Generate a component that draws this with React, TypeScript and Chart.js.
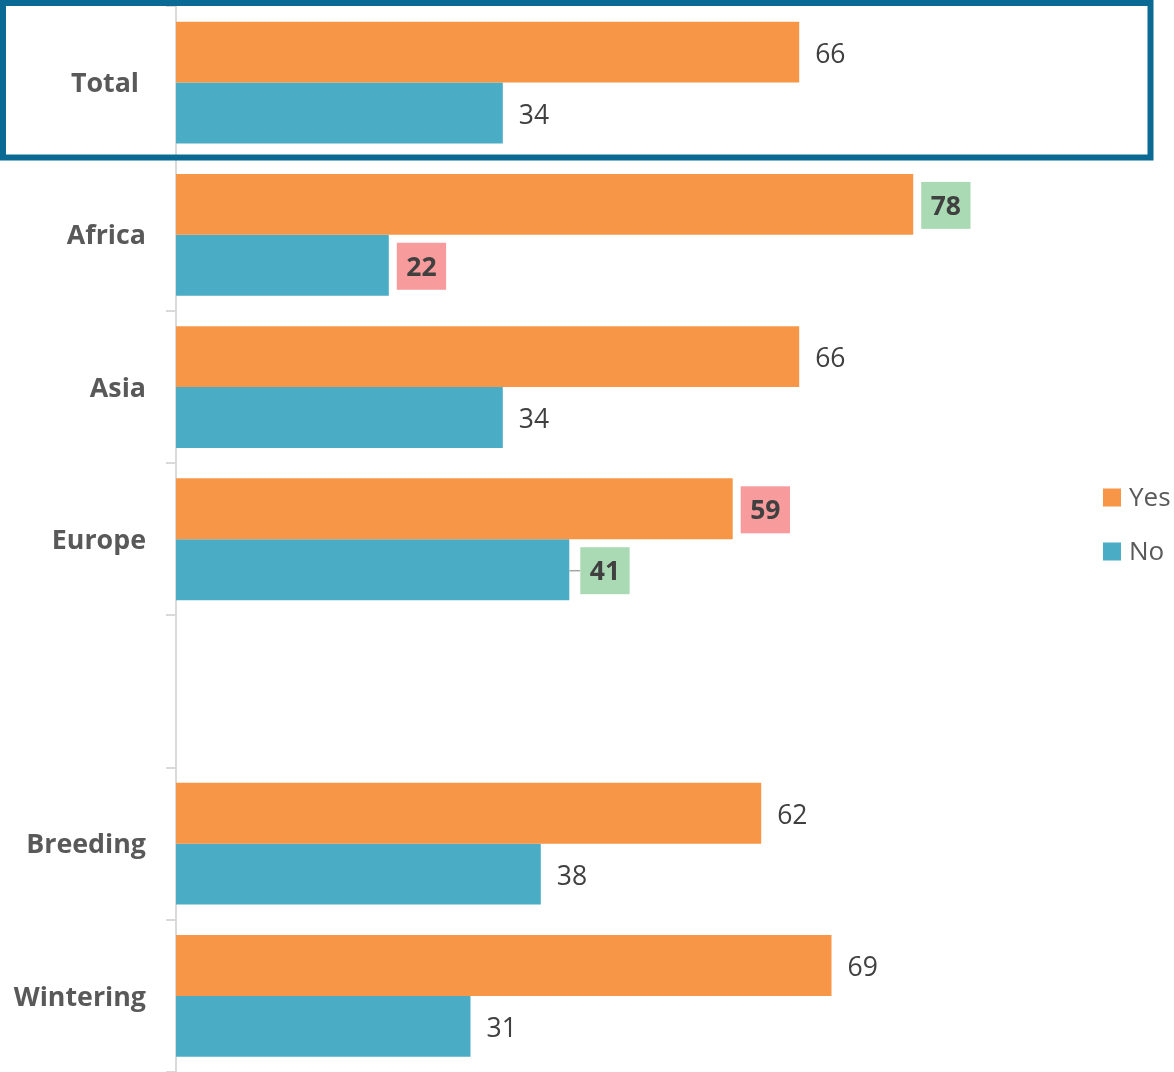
import React, { useEffect, useRef } from "react";
import { Chart, registerables } from "chart.js";

Chart.register(...registerables);

const categories = ["Total ", "Africa", "Asia", "Europe", "", "Breeding", "Wintering"];
const seriesNames = ["Yes", "No"];
const yesValues = [65.6, 77.6, 65.6, 58.6, null, 61.6, 69.0];
const noValues = [34.4, 22.4, 34.4, 41.4, null, 38.4, 31.0];
// highlight flags per label: "good" (green box), "bad" (red box), "" none
const yesHighlight = ["", "good", "", "bad", "", "", ""];
const noHighlight = ["", "bad", "", "good", "", "", ""];
const noLeader = [false, false, false, true, false, false, false];

const COLORS = { yes: "#F79646", no: "#4BACC6" };
const FONT = '"Open Sans", "Noto Sans", sans-serif';

const labelPlugin = {
  id: "valueLabels",
  afterDatasetsDraw(chart: any) {
    const ctx = chart.ctx;
    const highlights = [yesHighlight, noHighlight];
    chart.data.datasets.forEach((ds: any, i: number) => {
      const meta = chart.getDatasetMeta(i);
      meta.data.forEach((bar: any, j: number) => {
        const v = ds.data[j];
        if (v == null) return;
        const text = String(Math.round(v));
        const hl = highlights[i][j];
        ctx.save();
        ctx.textBaseline = "middle";
        if (hl) {
          ctx.font = `bold 26.5px ${FONT}`;
          const w = ctx.measureText(text).width;
          const bw = w + 19;
          const bh = 47;
          const leader = i === 1 && noLeader[j];
          const bx = bar.x + (leader ? 11 : 8);
          const by = bar.y - bh / 2 + 1;
          if (leader) {
            ctx.strokeStyle = "#A6A6A6";
            ctx.lineWidth = 1.5;
            ctx.beginPath();
            ctx.moveTo(bar.x, bar.y + 1);
            ctx.lineTo(bx, bar.y + 1);
            ctx.stroke();
          }
          ctx.fillStyle = hl === "good" ? "#A9DAB4" : "#F79B9C";
          ctx.fillRect(bx, by, bw, bh);
          ctx.fillStyle = "#404040";
          ctx.textAlign = "center";
          ctx.fillText(text, bx + bw / 2, bar.y + 3);
        } else {
          ctx.font = `26.5px ${FONT}`;
          ctx.fillStyle = "#404040";
          ctx.textAlign = "left";
          ctx.fillText(text, bar.x + 16, bar.y + 3);
        }
        ctx.restore();
      });
    });
  },
};

const decorPlugin = {
  id: "decor",
  afterDraw(chart: any) {
    const ctx = chart.ctx;
    const ys = chart.scales.y;
    const boundary = (ys.getPixelForValue(0) + ys.getPixelForValue(1)) / 2;
    // highlight box around "Total"
    ctx.save();
    ctx.strokeStyle = "#0B6A94";
    ctx.lineWidth = 6;
    ctx.strokeRect(3, ys.top - 3.5, chart.width - 26.5, boundary - ys.top + 2.3);
    ctx.restore();

    // legend
    ctx.save();
    const lx = chart.chartArea.right - 23;
    const ly0 = 497.5;
    chart.data.datasets.forEach((ds: any, i: number) => {
      const cy = ly0 + i * 54;
      ctx.fillStyle = ds.backgroundColor;
      ctx.fillRect(lx, cy - 9, 18, 18);
      ctx.fillStyle = "#595959";
      ctx.font = `26px ${FONT}`;
      ctx.textBaseline = "middle";
      ctx.textAlign = "left";
      ctx.fillText(ds.label, lx + 26, cy + 1);
    });
    ctx.restore();
  },
};

export default function App() {
  const ref = useRef<HTMLCanvasElement>(null);
  useEffect(() => {
    if (!ref.current) return;
    const chart = new Chart(ref.current, {
      type: "bar",
      data: {
        labels: categories,
        datasets: [
          { label: seriesNames[0], data: yesValues, backgroundColor: COLORS.yes, categoryPercentage: 0.8, barPercentage: 1 },
          { label: seriesNames[1], data: noValues, backgroundColor: COLORS.no, categoryPercentage: 0.8, barPercentage: 1 },
        ],
      },
      options: {
        indexAxis: "y",
        responsive: false,
        animation: false,
        devicePixelRatio: 1,
        layout: { padding: { top: 6.5, right: 48, bottom: 0, left: 0 } },
        plugins: { legend: { display: false }, tooltip: { enabled: false } },
        scales: {
          x: { display: false, min: 0, max: 100 },
          y: {
            afterFit: (scale: any) => {
              scale.width = 176;
              scale.paddingTop = 0;
              scale.paddingBottom = 0;
            },
            border: { display: true, color: "#D9D9D9", width: 2 },
            grid: {
              drawOnChartArea: false,
              drawTicks: true,
              tickLength: 10,
              color: "#D9D9D9",
              lineWidth: 2,
              offset: true,
            },
            ticks: {
              padding: 20,
              labelOffset: 2,
              color: "#595959",
              font: { family: FONT, size: 26.8, weight: "bold" },
            },
          },
        },
      },
      plugins: [labelPlugin, decorPlugin],
    } as any);
    return () => chart.destroy();
  }, []);
  return (
    <div style={{ position: "absolute", left: 0, top: 0, width: 1174, height: 1072, background: "#fff" }}>
      <canvas ref={ref} width={1174} height={1072} style={{ display: "block" }} />
    </div>
  );
}
